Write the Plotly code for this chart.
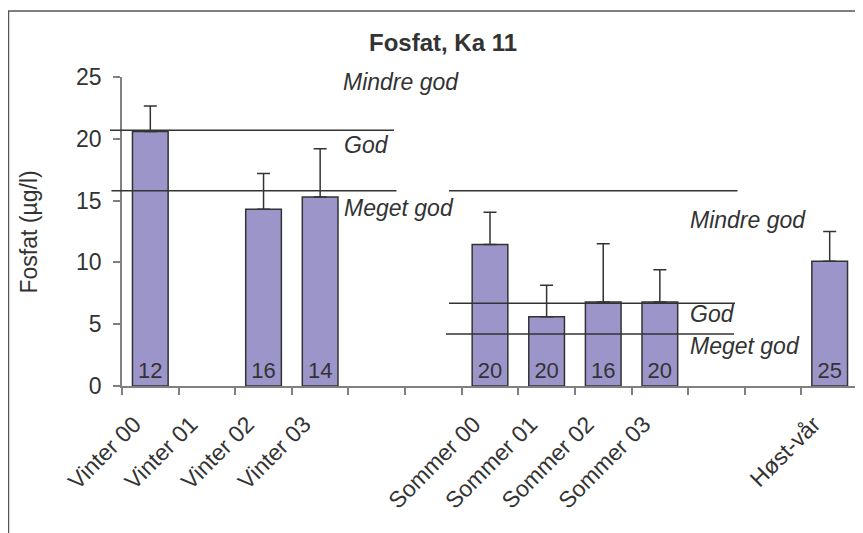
import plotly.graph_objects as go

# ---------------- data ----------------
categories = ["Vinter 00", "Vinter 01", "Vinter 02", "Vinter 03", " ", "  ",
              "Sommer 00", "Sommer 01", "Sommer 02", "Sommer 03", "   ", "    ",
              "Høst-vår"]
values = [20.6, None, 14.3, 15.3, None, None, 11.45, 5.6, 6.8, 6.8, None, None, 10.1]
err_plus = [2.05, None, 2.9, 3.9, None, None, 2.6, 2.55, 4.7, 2.6, None, None, 2.4]
counts = ["12", "", "16", "14", "", "", "20", "20", "16", "20", "", "", "25"]
winter_limits = [20.7, 15.8]
summer_limits = [15.8, 6.7, 4.2]
y_ticks = [0, 5, 10, 15, 20, 25]

# ---------------- layout constants ----------------
# The page body has a default 8px margin, so the figure is drawn 8px smaller
# and every target pixel position is shifted by OFF.
OFF = 8
WIN_W, WIN_H = 863, 533
W, H = WIN_W - OFF, WIN_H - OFF
PLOT_L, PLOT_R, PLOT_T, PLOT_B = 122, 858, 77, 386   # in window pixels
ML = PLOT_L - OFF
MR = W - (PLOT_R - OFF)
MT = PLOT_T - OFF
MB = H - (PLOT_B - OFF)
Y_MIN, Y_MAX = 0, 25
PW = W - ML - MR
PH = H - MT - MB
DARK = "#333333"
AXIS = "#808080"
FONT = "Liberation Sans, Arial, sans-serif"


def px_x(px):
    return (px - PLOT_L) / PW


def px_y(py):
    return (PLOT_B - py) / PH


def val_y(v):
    return (v - Y_MIN) / (Y_MAX - Y_MIN)


fig = go.Figure()
fig.add_trace(go.Bar(
    x=categories, y=values,
    marker=dict(color="#9b95c9", line=dict(color=DARK, width=1.5)),
    width=0.63,
    error_y=dict(type="data", symmetric=False, array=err_plus,
                 arrayminus=[0 if v is not None else None for v in values],
                 color=DARK, thickness=1.5, width=6.5),
    text=counts, textposition="inside", insidetextanchor="start",
    textangle=0, textfont=dict(size=22, color=DARK, family=FONT),
    showlegend=False, hoverinfo="skip",
))

shapes = []
# chart area border
shapes.append(dict(type="rect", xref="paper", yref="paper",
                   x0=px_x(8.5), x1=px_x(WIN_W + 20), y0=px_y(WIN_H + 20), y1=px_y(11),
                   line=dict(color="#555555", width=1.5), fillcolor="rgba(0,0,0,0)",
                   layer="below"))
# quality class limit lines (winter)
winter_x = [(110, 394), (111.5, 396.5)]
for v, (a, b) in zip(winter_limits, winter_x):
    shapes.append(dict(type="line", xref="paper", yref="paper",
                       x0=px_x(a), x1=px_x(b), y0=val_y(v), y1=val_y(v),
                       line=dict(color=DARK, width=1.5)))
# quality class limit lines (summer)
summer_x = [(449, 737.5), (449, 735), (446, 734)]
for v, (a, b) in zip(summer_limits, summer_x):
    shapes.append(dict(type="line", xref="paper", yref="paper",
                       x0=px_x(a), x1=px_x(b), y0=val_y(v), y1=val_y(v),
                       line=dict(color=DARK, width=1.5)))

annotations = []
labels = [("Mindre god", 341, 82), ("God", 342, 145), ("Meget god", 342, 208),
          ("Mindre god", 688, 220), ("God", 688, 314), ("Meget god", 688, 346)]
for t, lx, cy in labels:
    annotations.append(dict(text="<i>" + t + "</i>", xref="paper", yref="paper",
                            x=px_x(lx), y=px_y(cy), xanchor="left", yanchor="middle",
                            showarrow=False, font=dict(size=23, color=DARK, family=FONT)))
annotations.append(dict(text="Fosfat (µg/l)", xref="paper", yref="paper",
                        x=px_x(28), y=0.5, textangle=-90, xanchor="center",
                        yanchor="middle", showarrow=False,
                        font=dict(size=23, color=DARK, family=FONT)))

fig.update_layout(
    width=W, height=H,
    margin=dict(l=ML, r=MR, t=MT, b=MB, pad=0, autoexpand=False),
    paper_bgcolor="white", plot_bgcolor="white",
    title=dict(text="<b>Fosfat, Ka 11</b>", xref="paper", x=px_x(443), xanchor="center",
               yref="container", y=1 - (42.5 - OFF) / H, yanchor="middle",
               font=dict(size=24, color=DARK, family=FONT)),
    shapes=shapes, annotations=annotations,
    font=dict(family=FONT, color=DARK),
)
fig.update_xaxes(
    type="category", categoryorder="array", categoryarray=categories,
    range=[-0.5, len(categories) - 0.5], tickson="boundaries",
    ticks="outside", ticklen=7, tickcolor=AXIS, tickwidth=1.5,
    showline=True, linecolor=AXIS, linewidth=1.5, showgrid=False,
    tickangle=-45, tickfont=dict(size=23, color=DARK, family=FONT),
    ticklabelstandoff=14, ticklabelshift=-16,
    fixedrange=True,
)
fig.update_yaxes(
    range=[Y_MIN, Y_MAX], tickmode="array", tickvals=y_ticks,
    ticks="outside", ticklen=7, tickcolor=AXIS, tickwidth=1.5,
    showline=True, linecolor=AXIS, linewidth=1.5, showgrid=False, zeroline=False,
    tickfont=dict(size=23, color=DARK, family=FONT), ticklabelstandoff=7,
    fixedrange=True,
)

fig.write_html("out.html")
